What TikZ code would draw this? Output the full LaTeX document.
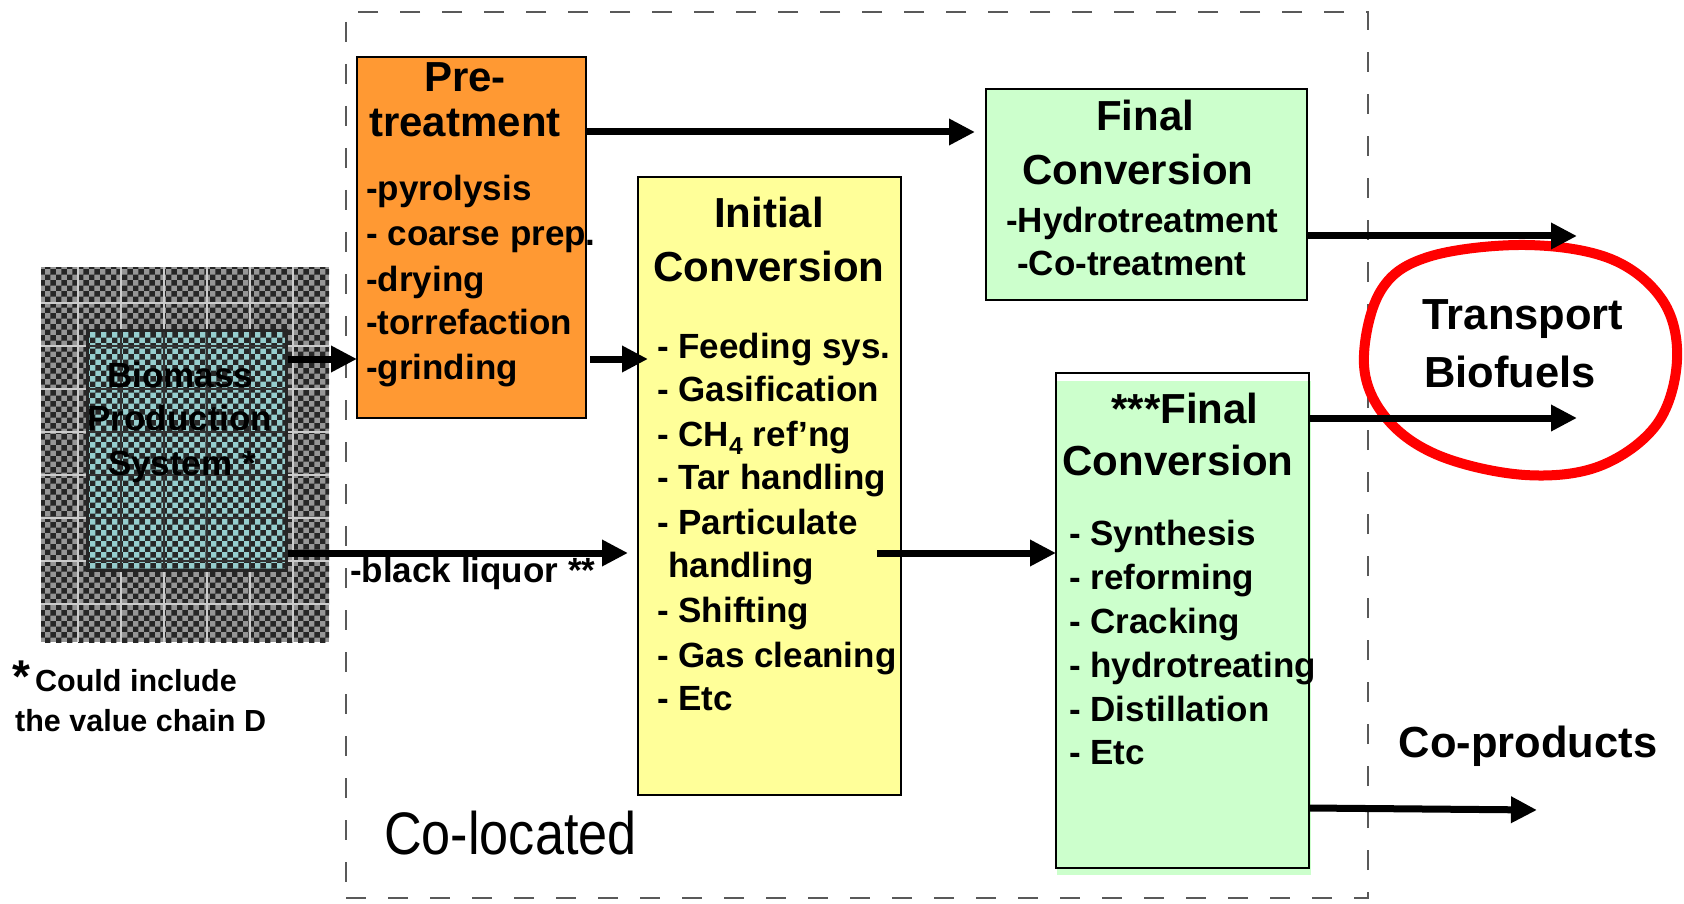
\documentclass[tikz,border=0pt]{standalone}
\usepackage{fontspec}
\setmainfont{Liberation Sans}
\newfontfamily\narrowfont[FakeStretch=0.87]{Liberation Sans}
\usetikzlibrary{arrows.meta,patterns}
\definecolor{preorange}{RGB}{255,153,51}
\definecolor{inityellow}{RGB}{255,255,153}
\definecolor{fingreen}{RGB}{204,255,204}
\definecolor{biocyan}{RGB}{150,205,205}
\definecolor{bioouter}{RGB}{150,150,150}
\definecolor{ovalred}{RGB}{255,0,0}
\begin{document}
\begin{tikzpicture}[x=1pt,y=-1pt,
  box/.style={draw=black,line width=2.5pt,anchor=north west,inner sep=0pt,outer sep=0pt},
  head/.style={font=\bfseries\fontsize{42}{50}\selectfont,anchor=base,inner sep=0pt},
  item/.style={font=\bfseries\fontsize{35}{44}\selectfont,anchor=base west,inner sep=0pt},
  big/.style={font=\bfseries\fontsize{43.5}{50}\selectfont,anchor=base,inner sep=0pt},
  foot/.style={font=\bfseries\fontsize{30.5}{36}\selectfont,anchor=base west,inner sep=0pt},
  arr/.style={line width=7pt,-{Triangle[length=26pt,width=25pt]}},
  frame/.style={draw=black!65,line width=2pt,dash pattern=on 20pt off 22pt,anchor=north west,inner sep=0pt},
]
\useasboundingbox (0,0) rectangle (1684,904);
% co-located frame
\node[frame,minimum width=1022pt,minimum height=886pt] (coloc) at (345,11) {};
% biomass production system
\path[fill=bioouter] (41,267) rectangle (329,642);
\path[pattern=checkerboard,pattern color=black!85] (41,267) rectangle (329,642);
\foreach \gx in {78,121,164,207,250,293} \draw[white!80!black,line width=1.5pt] (\gx,267) -- (\gx,642);
\foreach \gy in {303,346,389,432,475,518,561,604} \draw[white!80!black,line width=1.5pt] (41,\gy) -- (329,\gy);
\node[anchor=north west,inner sep=0pt,minimum width=288pt,minimum height=375pt] (bioout) at (41,267) {};
\path[fill=biocyan] (86,329) rectangle (285,569);
\path[pattern=checkerboard,pattern color=black!85] (86,329) rectangle (285,569);
\foreach \gx in {121,164,207,250} \draw[black!80,line width=1.2pt] (\gx,329) -- (\gx,569);
\foreach \gy in {346,389,432,475,518,561} \draw[black!80,line width=1.2pt] (86,\gy) -- (285,\gy);
\node[draw=black!85,line width=2.5pt,anchor=north west,inner sep=0pt,minimum width=199pt,minimum height=240pt] (bioin) at (86,329) {};
\node[item,anchor=base] (bio1) at (180,387) {Biomass};
\node[item,anchor=base] (bio2) at (180,430) {Production};
\node[item,anchor=base] (bio3) at (182,475) {System *};
% boxes
\node[box,fill=preorange,minimum width=229pt,minimum height=361pt] (pre) at (357,57) {};
\node[box,fill=inityellow,minimum width=263pt,minimum height=618pt] (init) at (638,177) {};
\node[box,fill=fingreen,minimum width=321pt,minimum height=211pt] (fin1) at (986,89) {};
\fill[fingreen] (1057,381) rectangle (1311,875);
\node[box,minimum width=253pt,minimum height=495pt] (fin2) at (1056,373) {};
% pretreatment text
\node[head] (preT1) at (465,92) {Pre-};
\node[head] (preT2) at (465,137) {treatment};
\node[item] (pre1) at (366,201) {-pyrolysis};
\node[item] (pre2) at (366,246) {- coarse prep.};
\node[item] (pre3) at (366,291) {-drying};
\node[item] (pre4) at (366,334) {-torrefaction};
\node[item] (pre5) at (366,379) {-grinding};
% initial conversion text
\node[head] (initT1) at (769,228) {Initial};
\node[head] (initT2) at (769,281) {Conversion};
\node[item] (init1) at (657,358) {- Feeding sys.};
\node[item] (init2) at (657,401) {- Gasification};
\node[item] (init3) at (657,446) {- CH\textsubscript{4} ref’ng};
\node[item] (init4) at (657,489) {- Tar handling};
\node[item] (init5) at (657,534) {- Particulate};
\node[item] (init6) at (668,577) {handling};
\node[item] (init7) at (657,622) {- Shifting};
\node[item] (init8) at (657,667) {- Gas cleaning};
\node[item] (init9) at (657,710) {- Etc};
% final conversion (top)
\node[head] (fin1T1) at (1145,131) {Final};
\node[head] (fin1T2) at (1138,185) {Conversion};
\node[item] (fin1a) at (1006,233) {-Hydrotreatment};
\node[item] (fin1b) at (1017,275) {-Co-treatment};
% final conversion (bottom)
\node[head] (fin2T1) at (1185,423) {***Final};
\node[head] (fin2T2) at (1178,475) {Conversion};
\node[item] (fin2a) at (1069,545) {- Synthesis};
\node[item] (fin2b) at (1069,589) {- reforming};
\node[item] (fin2c) at (1069,633) {- Cracking};
\node[item] (fin2d) at (1069,677) {- hydrotreating};
\node[item] (fin2e) at (1069,721) {- Distillation};
\node[item] (fin2f) at (1069,764) {- Etc};
% other labels
\node[item] (liquor) at (350,582) {-black liquor **};
\node[anchor=base west,inner sep=0pt,font=\narrowfont\fontsize{60}{70}\selectfont] (colocT) at (384,854) {Co-located};
\node[big] (trans1) at (1523,329) {Transport};
\node[big] (trans2) at (1510,387) {Biofuels};
\node[big] (coprod) at (1528,757) {Co-products};
\node[anchor=base west,inner sep=0pt,font=\bfseries\fontsize{46}{50}\selectfont] (star) at (12,692) {*};
\node[foot] (foot1) at (35,691) {Could include};
\node[foot] (foot2) at (15,731) {the value chain D};
% red oval
\draw[ovalred,line width=10pt] plot[smooth cycle,tension=0.6] coordinates {(1364,365) (1380,292) (1428,257) (1525,245) (1611,259) (1663,301) (1677,360) (1657,424) (1600,466) (1525,475) (1440,456) (1387,419)};
% connectors
\coordinate (y132) at (0,132);
\coordinate (y359) at (0,359);
\coordinate (y553) at (0,553);
\coordinate (y236) at (0,236);
\coordinate (y418) at (0,418);
\coordinate (y808) at (0,808);
\coordinate (out1) at (1577,236);
\coordinate (out2) at (1577,418);
\coordinate (out3) at (1537,810);
\draw[arr,shorten >=11pt] (pre.east |- y132) -- (fin1.west |- y132);
\draw[arr] (bioin.east |- y359) -- (pre.west |- y359);
\draw[arr] ([xshift=4pt]pre.east |- y359) -- ([xshift=10pt]init.west |- y359);
\draw[arr,shorten >=10pt] (bioin.east |- y553) -- (init.west |- y553);
\draw[arr] ([xshift=-24pt]init.east |- y553) -- (fin2.west |- y553);
\draw[arr] (fin1.east |- y236) -- (out1);
\draw[arr] (fin2.east |- y418) -- (out2);
\draw[arr] (fin2.east |- y808) -- (out3);
\end{tikzpicture}
\end{document}
